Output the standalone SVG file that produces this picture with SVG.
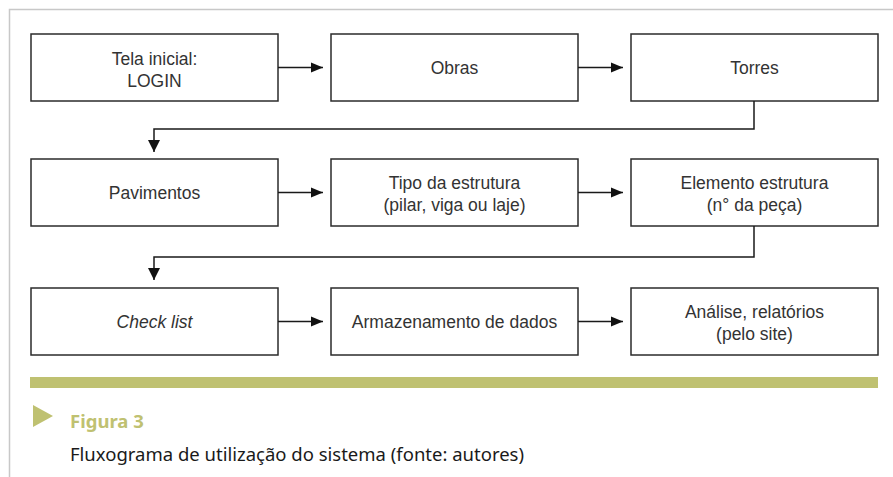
<svg xmlns="http://www.w3.org/2000/svg" width="893" height="477" viewBox="0 0 893 477">
<defs>
<style>
.box{fill:#fff;stroke:#2b2b2b;stroke-width:1.5}
.t{font-family:"Liberation Sans",Arial,sans-serif;font-size:17.5px;fill:#333;text-anchor:middle}
.c{fill:none;stroke:#1a1a1a;stroke-width:1.5}
.cap{font-family:"Noto Sans",sans-serif;font-size:18.5px}
</style>
<marker id="ah" viewBox="0 0 12 10" refX="12" refY="5" markerWidth="12" markerHeight="11" markerUnits="userSpaceOnUse" orient="auto">
<path d="M0,0 L12,5 L0,10 Z" fill="#111"/>
</marker>
<marker id="av" viewBox="0 0 12 12" refX="12" refY="6" markerWidth="12" markerHeight="13" markerUnits="userSpaceOnUse" orient="auto">
<path d="M0,0 L12,6 L0,12 Z" fill="#111"/>
</marker>
</defs>
<rect width="893" height="477" fill="#fff"/>
<path d="M9.5,477 V9.5 H893" fill="none" stroke="#c8c8c8" stroke-width="1.5"/>
<g id="n1"><rect class="box" x="31" y="34" width="247" height="67"/><text class="t" x="154.5" y="65">Tela inicial:</text><text class="t" x="154.5" y="87">LOGIN</text></g>
<g id="n2"><rect class="box" x="331" y="34" width="247" height="67"/><text class="t" x="454.5" y="74">Obras</text></g>
<g id="n3"><rect class="box" x="631" y="34" width="247" height="67"/><text class="t" x="754.5" y="74">Torres</text></g>
<g id="n4"><rect class="box" x="31" y="159" width="247" height="67"/><text class="t" x="154.5" y="199">Pavimentos</text></g>
<g id="n5"><rect class="box" x="331" y="159" width="247" height="67"/><text class="t" x="454.5" y="189">Tipo da estrutura</text><text class="t" x="454.5" y="211">(pilar, viga ou laje)</text></g>
<g id="n6"><rect class="box" x="631" y="159" width="247" height="67"/><text class="t" x="754.5" y="189">Elemento estrutura</text><text class="t" x="754.5" y="211">(n° da peça)</text></g>
<g id="n7"><rect class="box" x="31" y="288" width="247" height="67"/><text class="t" x="154.5" y="328" font-style="italic">Check list</text></g>
<g id="n8"><rect class="box" x="331" y="288" width="247" height="67"/><text class="t" x="454.5" y="328">Armazenamento de dados</text></g>
<g id="n9"><rect class="box" x="631" y="288" width="247" height="67"/><text class="t" x="754.5" y="318">Análise, relatórios</text><text class="t" x="754.5" y="340">(pelo site)</text></g>
<g id="connectors">
<path class="c" d="M278,67.5 H323" marker-end="url(#ah)"/>
<path class="c" d="M578,67.5 H623" marker-end="url(#ah)"/>
<path class="c" d="M754,101 V129 H154 V152" marker-end="url(#av)"/>
<path class="c" d="M278,192.5 H323" marker-end="url(#ah)"/>
<path class="c" d="M578,192.5 H623" marker-end="url(#ah)"/>
<path class="c" d="M754,226 V257 H154 V280" marker-end="url(#av)"/>
<path class="c" d="M278,321.5 H323" marker-end="url(#ah)"/>
<path class="c" d="M578,321.5 H623" marker-end="url(#ah)"/>
</g>
<rect x="30" y="377" width="848" height="11" fill="#bfc171"/>
<path d="M33,405 L53,416 L33,427 Z" fill="#bfc171"/>
<text class="cap" x="70" y="428" font-size="21" font-weight="bold" fill="#bfc171">Figura 3</text>
<text class="cap" x="70" y="461" fill="#1a1a1a">Fluxograma de utilização do sistema (fonte: autores)</text>
</svg>
